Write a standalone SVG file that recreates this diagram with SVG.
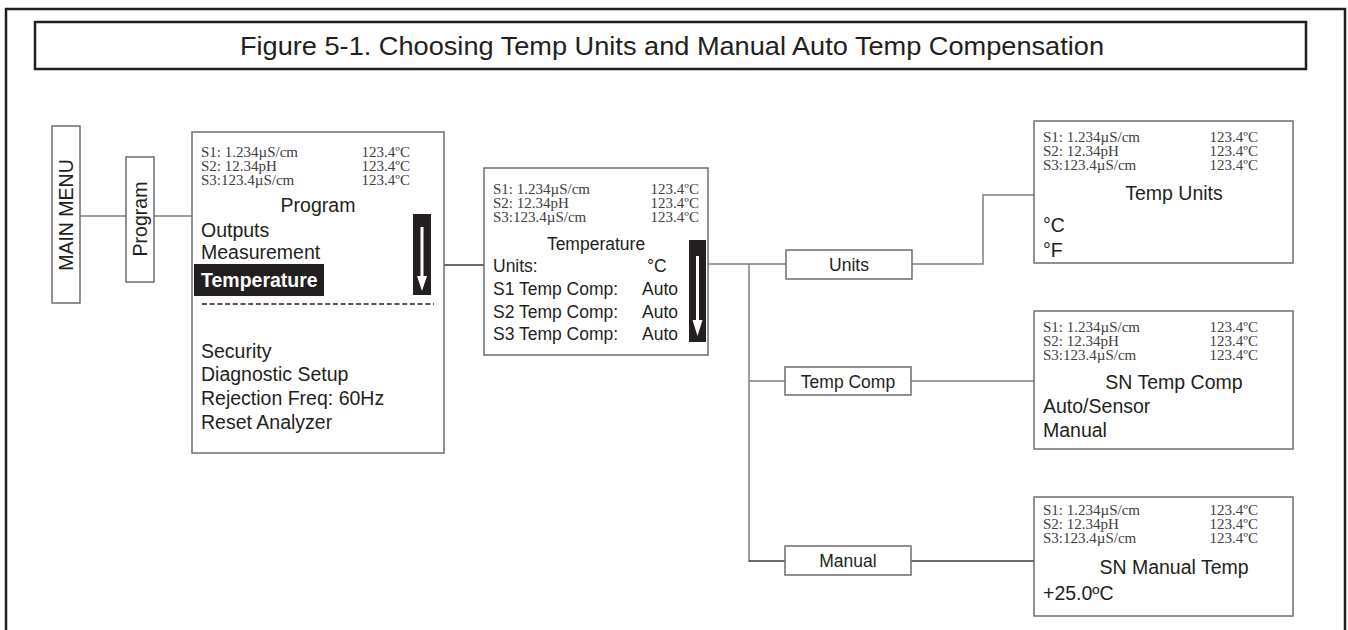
<svg xmlns="http://www.w3.org/2000/svg" width="1348" height="630" viewBox="0 0 1348 630">
<style>
.frame{fill:none;stroke:#231f20;stroke-width:2.5}
.box{fill:#fff;stroke:#6d6e71;stroke-width:1.5}
.conn{fill:none;stroke:#808080;stroke-width:1.5}
.dark{stroke:#3a3a3a}
.sans{font-family:"Liberation Sans",Arial,sans-serif;fill:#231f20}
.serif{font-family:"Liberation Serif","Times New Roman",serif;fill:#414042;font-size:15px}
.lbl{font-size:19.5px}
.lbl2{font-size:17.5px}
.ttl{font-size:26px}
.bar{fill:#231f20}
.arr{fill:#fff}
</style>
<rect width="1348" height="630" fill="#fff"/>
<path class="frame" d="M6,630 V9 H1345 V630"/>
<g id="title">
<rect class="frame" x="35" y="22" width="1271" height="47"/>
<text class="sans ttl" x="672" y="55" text-anchor="middle" textLength="864" lengthAdjust="spacingAndGlyphs">Figure 5-1. Choosing Temp Units and Manual Auto Temp Compensation</text>
</g>
<g id="connectors">
<path class="conn" d="M80,216 H126 M154,216 H192"/>
<path class="conn dark" d="M353,265 H484"/>
<path class="conn" d="M708,264 H786 M749,264 V562 M749,381 H785"/>
<path class="conn dark" d="M749,561 H785"/>
<path class="conn" d="M912,264 H983 V195 H1034"/>
<path class="conn" d="M911,381 H1034"/>
<path class="conn dark" d="M911,561 H1034"/>
</g>
<g id="main-menu">
<rect class="box" x="52" y="126" width="28" height="177"/>
<text class="sans lbl" transform="translate(73,215) rotate(-90)" text-anchor="middle">MAIN MENU</text>
</g>
<g id="program">
<rect class="box" x="126" y="157" width="28" height="125"/>
<text class="sans lbl" transform="translate(147,219) rotate(-90)" text-anchor="middle">Program</text>
</g>
<g id="program-screen">
<rect class="box" x="192" y="132" width="252" height="321"/>
<text class="serif" x="201" y="157">S1: 1.234µS/cm</text>
<text class="serif" x="410" y="157" text-anchor="end">123.4ºC</text>
<text class="serif" x="201" y="171">S2: 12.34pH</text>
<text class="serif" x="410" y="171" text-anchor="end">123.4ºC</text>
<text class="serif" x="201" y="185">S3:123.4µS/cm</text>
<text class="serif" x="410" y="185" text-anchor="end">123.4ºC</text>
<text class="sans lbl" x="318" y="212" text-anchor="middle">Program</text>
<text class="sans lbl" x="201" y="237">Outputs</text>
<text class="sans lbl" x="201" y="259">Measurement</text>
<rect class="bar" x="194" y="264" width="130" height="32"/>
<text class="sans lbl" x="201" y="287" font-weight="bold" style="fill:#fff">Temperature</text>
<line x1="202" y1="304" x2="434" y2="304" stroke="#231f20" stroke-width="1.5" stroke-dasharray="5,2.7"/>
<text class="sans lbl" x="201" y="358">Security</text>
<text class="sans lbl" x="201" y="381">Diagnostic Setup</text>
<text class="sans lbl" x="201" y="405">Rejection Freq: 60Hz</text>
<text class="sans lbl" x="201" y="429">Reset Analyzer</text>
<rect class="bar" x="413" y="214" width="18" height="81"/>
<path class="arr" d="M420.5,227 H423.5 V276 H427 L422,291 L417,276 H420.5 Z"/>
</g>
<g id="temperature-screen">
<rect class="box" x="484" y="168" width="224" height="187"/>
<text class="serif" x="493" y="194">S1: 1.234µS/cm</text>
<text class="serif" x="699" y="194" text-anchor="end">123.4ºC</text>
<text class="serif" x="493" y="208">S2: 12.34pH</text>
<text class="serif" x="699" y="208" text-anchor="end">123.4ºC</text>
<text class="serif" x="493" y="222">S3:123.4µS/cm</text>
<text class="serif" x="699" y="222" text-anchor="end">123.4ºC</text>
<text class="sans lbl2" x="596" y="250" text-anchor="middle">Temperature</text>
<text class="sans lbl2" x="493" y="272">Units:</text>
<text class="sans lbl2" x="647" y="272">°C</text>
<text class="sans lbl2" x="493" y="295">S1 Temp Comp:</text>
<text class="sans lbl2" x="642" y="295">Auto</text>
<text class="sans lbl2" x="493" y="318">S2 Temp Comp:</text>
<text class="sans lbl2" x="642" y="318">Auto</text>
<text class="sans lbl2" x="493" y="340">S3 Temp Comp:</text>
<text class="sans lbl2" x="642" y="340">Auto</text>
<rect class="bar" x="689" y="240" width="17" height="102"/>
<path class="arr" d="M696,256 H699 V320 H702.5 L697.5,336 L692.5,320 H696 Z"/>
</g>
<g id="units">
<rect class="box" x="786" y="250" width="126" height="29"/>
<text class="sans lbl2" x="849" y="271" text-anchor="middle">Units</text>
</g>
<g id="temp-comp">
<rect class="box" x="785" y="367" width="126" height="28"/>
<text class="sans lbl2" x="848" y="388" text-anchor="middle">Temp Comp</text>
</g>
<g id="manual">
<rect class="box" x="785" y="546" width="126" height="29"/>
<text class="sans lbl2" x="848" y="567" text-anchor="middle">Manual</text>
</g>
<g id="temp-units-screen">
<rect class="box" x="1034" y="121" width="259" height="142"/>
<text class="serif" x="1043" y="142">S1: 1.234µS/cm</text>
<text class="serif" x="1258" y="142" text-anchor="end">123.4ºC</text>
<text class="serif" x="1043" y="156">S2: 12.34pH</text>
<text class="serif" x="1258" y="156" text-anchor="end">123.4ºC</text>
<text class="serif" x="1043" y="170">S3:123.4µS/cm</text>
<text class="serif" x="1258" y="170" text-anchor="end">123.4ºC</text>
<text class="sans lbl" x="1174" y="200" text-anchor="middle">Temp Units</text>
<text class="sans lbl" x="1043" y="232">°C</text>
<text class="sans lbl" x="1043" y="257">°F</text>
</g>
<g id="sn-temp-comp-screen">
<rect class="box" x="1034" y="311" width="259" height="138"/>
<text class="serif" x="1043" y="332">S1: 1.234µS/cm</text>
<text class="serif" x="1258" y="332" text-anchor="end">123.4ºC</text>
<text class="serif" x="1043" y="346">S2: 12.34pH</text>
<text class="serif" x="1258" y="346" text-anchor="end">123.4ºC</text>
<text class="serif" x="1043" y="360">S3:123.4µS/cm</text>
<text class="serif" x="1258" y="360" text-anchor="end">123.4ºC</text>
<text class="sans lbl" x="1174" y="389" text-anchor="middle">SN Temp Comp</text>
<text class="sans lbl" x="1043" y="413">Auto/Sensor</text>
<text class="sans lbl" x="1043" y="437">Manual</text>
</g>
<g id="sn-manual-temp-screen">
<rect class="box" x="1034" y="497" width="259" height="119"/>
<text class="serif" x="1043" y="515">S1: 1.234µS/cm</text>
<text class="serif" x="1258" y="515" text-anchor="end">123.4ºC</text>
<text class="serif" x="1043" y="529">S2: 12.34pH</text>
<text class="serif" x="1258" y="529" text-anchor="end">123.4ºC</text>
<text class="serif" x="1043" y="543">S3:123.4µS/cm</text>
<text class="serif" x="1258" y="543" text-anchor="end">123.4ºC</text>
<text class="sans lbl" x="1174" y="574" text-anchor="middle">SN Manual Temp</text>
<text class="sans lbl" x="1043" y="600">+25.0ºC</text>
</g>
</svg>
